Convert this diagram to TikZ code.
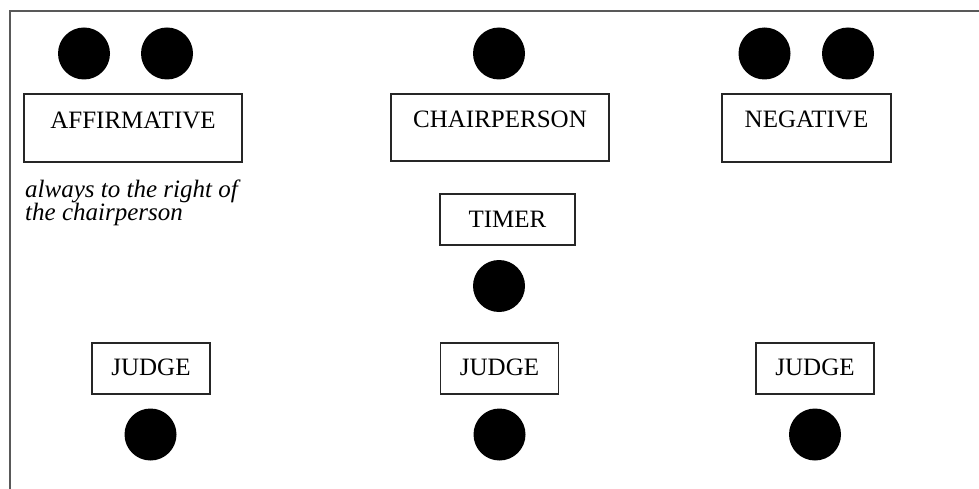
\documentclass[tikz,border=0pt]{standalone}
\usepackage{fontspec}
\setmainfont{Liberation Serif}
\begin{document}
\begin{tikzpicture}[x=1pt,y=-1pt,
  seat/.style={circle,fill=black,draw=none,minimum size=52pt,inner sep=0pt},
  card/.style={rectangle,draw=black!85,line width=1.2pt,inner sep=0pt,anchor=base,
    font=\fontsize{25}{25}\selectfont},
  note/.style={inner sep=0pt,anchor=base west,align=left,
    font=\fontsize{25}{23}\selectfont\itshape}]
\useasboundingbox (0,0) rectangle (979,489);
% room outline (open at the right and bottom)
\draw[black!65,line width=2pt] (9.5,489) -- (9.5,11.5) -- (979,11.5);

% affirmative team
\node[seat] (a1) at (84,53.5) {};
\node[seat] (a2) at (167,53.5) {};
\node[card,minimum width=218pt,text height=34.5pt,text depth=33.5pt] (aff) at (133,128.5) {AFFIRMATIVE};
% the base anchor of a two-line node sits on its last line
\node[note] (anote) at (25,220) {always to the right of\\the chairperson};

% chairperson and timer
\node[seat] (c1) at (499,53.5) {};
\node[card,minimum width=218pt,text height=34pt,text depth=33pt] (chair) at (500,128) {CHAIRPERSON};
\node[card,minimum width=135pt,text height=33pt,text depth=18pt] (timer) at (507.5,227) {TIMER};
\node[seat] (t1) at (499,286) {};

% negative team
\node[seat] (n1) at (764.5,53.5) {};
\node[seat] (n2) at (848,53.5) {};
\node[card,minimum width=169pt,text height=34pt,text depth=34pt] (neg) at (806.5,128) {NEGATIVE};

% judges
\node[card,minimum width=118pt,text height=32pt,text depth=19pt] (j1) at (151,375) {JUDGE};
\node[card,minimum width=118pt,text height=32pt,text depth=19pt] (j2) at (499.5,375) {JUDGE};
\node[card,minimum width=118pt,text height=32pt,text depth=19pt] (j3) at (815,375) {JUDGE};
\node[seat] (s1) at (150.5,434.5) {};
\node[seat] (s2) at (499.5,434.5) {};
\node[seat] (s3) at (815,434.5) {};
\end{tikzpicture}
\end{document}
